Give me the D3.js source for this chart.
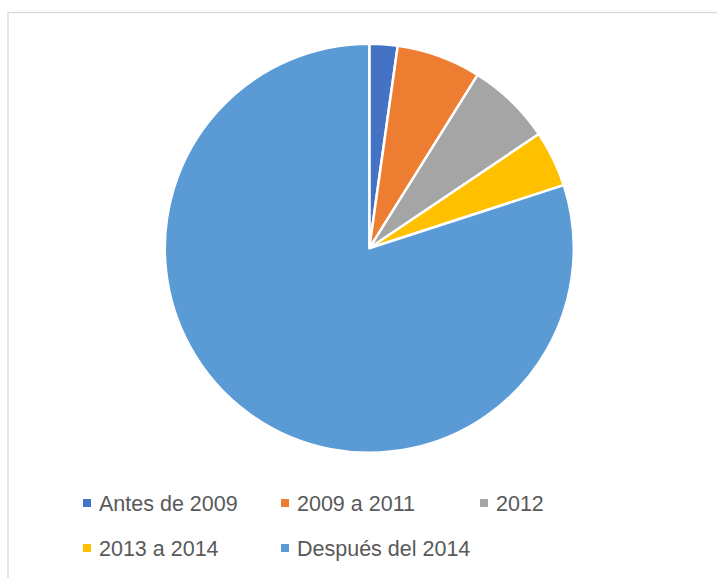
<!DOCTYPE html>
<html lang="es">
<head>
  <meta charset="UTF-8">
  <title>Pie</title>
  <script src="https://d3js.org/d3.v7.min.js"></script>
  <style>
    body { margin: 0; background: #fff; font-family: "Liberation Sans", Arial, sans-serif; }
  </style>
</head>
<body>
  <div id="chart"></div>
  <script>
    const categories = ["Antes de 2009", "2009 a 2011", "2012", "2013 a 2014", "Después del 2014"];
    const values = [1, 3, 3, 2, 36];
    const colors = ["#4472C4", "#ED7D31", "#A5A5A5", "#FFC000", "#5B9BD5"];

    const width = 717, height = 578;
    const svg = d3.select("#chart").append("svg")
      .attr("width", width)
      .attr("height", height);

    // chart area frame (extends beyond the window right/bottom)
    svg.append("rect")
      .attr("x", 8).attr("y", 12.5)
      .attr("width", 760).attr("height", 620)
      .attr("fill", "#fff")
      .attr("stroke", "#d9d9d9")
      .attr("stroke-width", 1.3);

    const cx = 369.3, cy = 248.3, r = 204.5;
    const pie = d3.pie().sort(null).value(d => d.v);
    const arc = d3.arc().innerRadius(0).outerRadius(r);
    const data = categories.map((c, i) => ({ c, v: values[i], col: colors[i] }));

    svg.append("g")
      .attr("transform", `translate(${cx},${cy})`)
      .selectAll("path")
      .data(pie(data))
      .join("path")
      .attr("d", arc)
      .attr("fill", d => d.data.col)
      .attr("stroke", "#fff")
      .attr("stroke-width", 2.5)
      .attr("stroke-linejoin", "round");

    // legend
    const legendPos = [
      { x: 83, y: 511 }, { x: 281, y: 511 }, { x: 480, y: 511 },
      { x: 83, y: 556 }, { x: 281, y: 556 }
    ];
    const lg = svg.append("g");
    data.forEach((d, i) => {
      const p = legendPos[i];
      lg.append("rect")
        .attr("x", p.x).attr("y", p.y - 12)
        .attr("width", 8).attr("height", 8)
        .attr("fill", d.col);
      lg.append("text")
        .attr("x", p.x + 16).attr("y", p.y)
        .attr("font-size", "21.5px")
        .attr("fill", "#595959")
        .text(d.c);
    });
  </script>
</body>
</html>
